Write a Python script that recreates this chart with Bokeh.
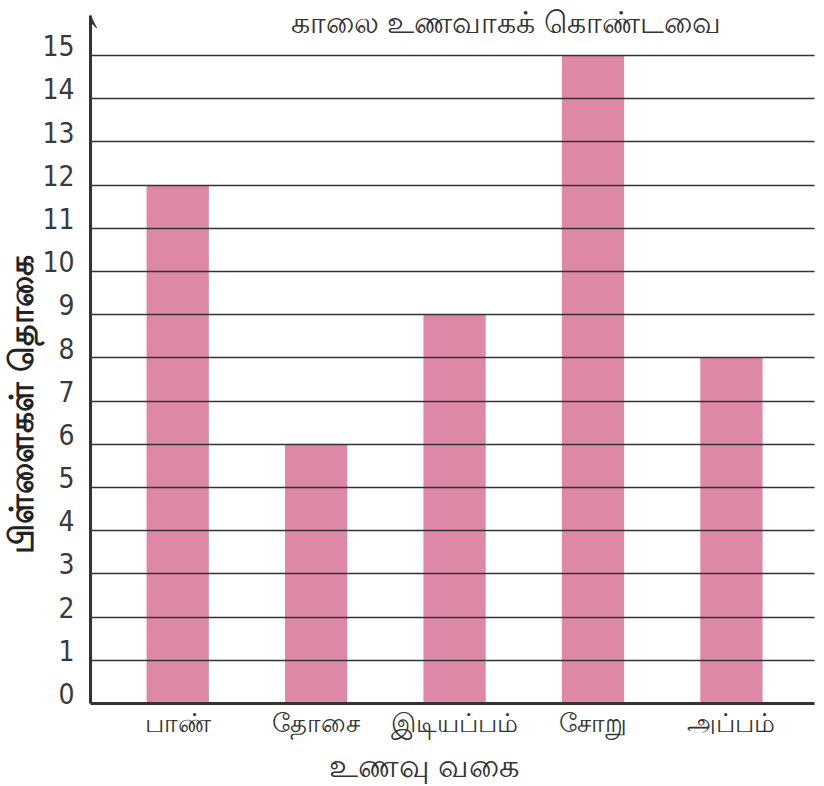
from bokeh.plotting import figure
from bokeh.models import (ColumnDataSource, Range1d, FixedTicker, Label, Arrow,
                          VeeHead, LinearAxis, Title)
from bokeh.embed import file_html
from bokeh.resources import INLINE

foods = ["பாண்", "தோசை", "இடியப்பம்", "சோறு", "அப்பம்"]
counts = [12, 6, 9, 15, 8]
y_ticks = list(range(0, 16))
title_text = "காலை உணவாகக் கொண்டவை"
x_title = "உணவு வகை"
y_title = "பிள்ளைகள் தொகை"

Y_END = 16.16
ARROW_TOP = 15.92
LABEL_SHIFT = 0.23  # tick labels sit a little above their lines

xs = list(range(len(foods)))
src = ColumnDataSource(dict(x=xs, top=counts, food=foods))

p = figure(
    frame_width=724, frame_height=698,
    min_border_left=88, min_border_right=2, min_border_top=5, min_border_bottom=78,
    x_range=Range1d(-0.63, 4.6), y_range=Range1d(0, Y_END),
    y_axis_location=None,
    output_backend="svg", toolbar_location=None,
    background_fill_color="white", border_fill_color="white",
)
p.outline_line_color = None
p.extra_y_ranges = {"lab": Range1d(-LABEL_SHIFT, Y_END - LABEL_SHIFT)}

p.vbar(x="x", top="top", width=0.45, bottom=0, source=src,
       fill_color="#de88a8", line_color=None)

# grid
p.xgrid.grid_line_color = None
p.ygrid.ticker = FixedTicker(ticks=y_ticks[1:])
p.ygrid.grid_line_color = "#333333"
p.ygrid.grid_line_width = 1.5
p.ygrid.level = "overlay"

# y axis on the shifted range: its labels land slightly above the grid lines
yax = LinearAxis(y_range_name="lab", ticker=FixedTicker(ticks=y_ticks),
                 bounds=(-LABEL_SHIFT, ARROW_TOP - LABEL_SHIFT))
yax.axis_line_width = 3
yax.axis_line_color = "#333333"
yax.major_tick_line_color = None
yax.minor_tick_line_color = None
yax.major_label_standoff = 10
yax.major_label_text_font = "DejaVu Sans Condensed"
yax.major_label_text_font_size = "28px"
yax.major_label_text_color = "#3a3a3a"
p.add_layout(yax, "left")

p.add_layout(Title(text=y_title, align="left", offset=150, standoff=0,
                   text_font_size="33px", text_font_style="bold",
                   text_color="#222222"), "left")

# x axis
p.xaxis.ticker = FixedTicker(ticks=xs)
p.xaxis.major_label_overrides = {i: f for i, f in zip(xs, foods)}
p.xaxis.axis_line_width = 3
p.xaxis.axis_line_color = "#333333"
p.xaxis.major_tick_line_color = None
p.xaxis.minor_tick_line_color = None
p.xaxis.major_label_standoff = -2
p.xaxis.major_label_text_font_size = "26px"
p.xaxis.major_label_text_color = "#333333"

p.add_layout(Title(text=x_title, align="left", offset=238, standoff=10,
                   text_font_size="32px", text_font_style="normal",
                   text_color="#333333"), "below")

# arrow on y axis
p.add_layout(Arrow(end=VeeHead(size=12, fill_color="#333333", line_color="#333333"),
                   x_start=-0.63, y_start=15, x_end=-0.63, y_end=ARROW_TOP,
                   line_color="#333333", line_width=3))

# title inside plot
p.add_layout(Label(x=2.37, y=15.76, text=title_text, text_align="center",
                   text_baseline="middle", text_font_size="30px",
                   text_color="#333333"))

open("out.html", "w").write(file_html(p, INLINE))
